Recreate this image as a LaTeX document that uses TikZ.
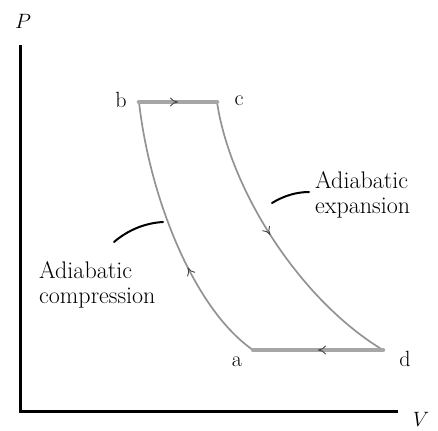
\documentclass[tikz,border=0pt]{standalone}
\usepackage{fontspec}
\setmainfont{Latin Modern Roman}
\usetikzlibrary{decorations.markings,arrows.meta}
\begin{document}
\begin{tikzpicture}[x=1pt,y=-1pt,
  axis/.style={line width=3pt},
  iso/.style={line width=4.5pt,gray!70,line cap=round},
  adia/.style={line width=1.7pt,gray!85},
  lead/.style={line width=2pt,line cap=round},
  midarrow/.style={postaction={decorate},decoration={markings,mark=at position #1 with {\arrow[gray!55!black,line width=0.9pt]{To[length=8pt,width=9pt]}}}},
  lbl/.style={font=\fontsize{22}{24}\selectfont,inner sep=0pt},
  axlbl/.style={font=\fontsize{22}{24}\selectfont,inner sep=0pt},
  txt/.style={font=\fontsize{24}{25}\selectfont,inner sep=0pt,align=left}]
\useasboundingbox (0,0) rectangle (438,430);
% axes
\coordinate (o) at (20,411);
\coordinate (ytop) at (20,45);
\coordinate (xend) at (398,411);
\draw[axis] (ytop) -- (o) -- (xend);
\node[axlbl] (P) at (23,21) {$P$};
\node[axlbl] (V) at (421,419) {$V$};
% states
\coordinate (b) at (139,102);
\coordinate (c) at (217,102);
\coordinate (a) at (253,350);
\coordinate (d) at (383,350);
\node[lbl] (lb) at (121,100) {b};
\node[lbl] (lc) at (239,101) {c};
\node[lbl] (la) at (237,362) {a};
\node[lbl] (ld) at (405,359) {d};
% adiabats
\draw[adia,midarrow=0.47] (c) .. controls (230,190) and (300,300) .. (d);
\draw[adia,midarrow=0.38] (a) .. controls (195,310) and (150,200) .. (b);
% isochores
\draw[iso,midarrow=0.5] (b) -- (c);
\draw[iso,midarrow=0.5] (d) -- (a);
% labels
\node[txt,anchor=north west] (exp) at (315,171) {Adiabatic\\expansion};
\node[txt,anchor=north west] (com) at (39,261) {Adiabatic\\compression};
\draw[lead] (272,203) .. controls (285,195) and (298,192) .. (309,192);
\draw[lead] (114,242) .. controls (128,230) and (145,223) .. (163,222);
\end{tikzpicture}
\end{document}
